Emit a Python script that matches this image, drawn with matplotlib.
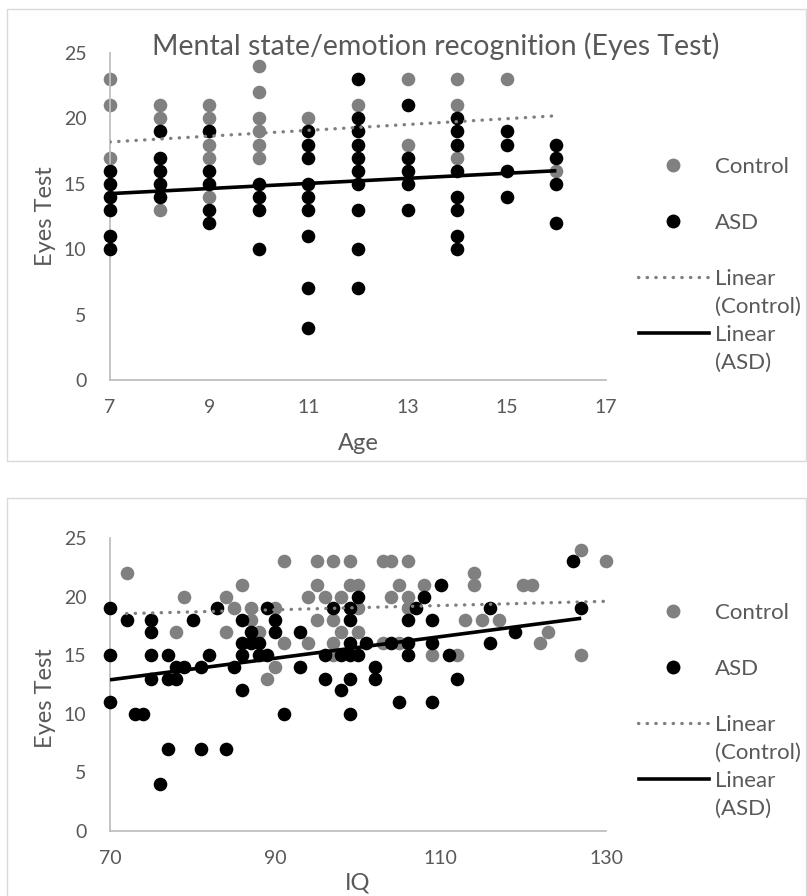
import matplotlib.pyplot as plt
from matplotlib.lines import Line2D
from matplotlib.patches import Rectangle

plt.rcParams['font.family'] = ['Lato', 'DejaVu Sans']

# ---- data: eyes test vs age ----
ctrl_age = [7, 7, 7, 8, 8, 8, 9, 9, 9, 9, 9, 10, 10, 10, 10, 10, 10,
            11, 12, 13, 13, 14, 14, 14, 15, 16]
ctrl_age_eyes = [23, 21, 17, 21, 20, 13, 21, 20, 18, 17, 14, 24, 22, 20, 19, 18, 17,
                 20, 21, 23, 18, 23, 21, 17, 23, 16]

asd_age = [7, 7, 7, 7, 7, 7, 8, 8, 8, 8, 8, 9, 9, 9, 9, 9, 10, 10, 10, 10,
           11, 11, 11, 11, 11, 11, 11, 11, 11,
           12, 12, 12, 12, 12, 12, 12, 12, 12, 12,
           13, 13, 13, 13, 13, 14, 14, 14, 14, 14, 14, 14, 14,
           15, 15, 15, 15, 16, 16, 16, 16]
asd_age_eyes = [16, 15, 14, 13, 11, 10, 19, 17, 16, 15, 14, 19, 16, 15, 13, 12, 15, 14, 13, 10,
                19, 18, 17, 15, 14, 13, 11, 7, 4,
                23, 20, 19, 18, 17, 16, 15, 13, 10, 7,
                21, 17, 16, 15, 13, 20, 19, 18, 16, 14, 13, 11, 10,
                19, 18, 16, 14, 18, 17, 15, 12]

# trend lines (end points)
age_fit_x = [7, 16]
ctrl_age_fit = [18.2, 20.2]
asd_age_fit = [14.25, 16.0]

# ---- data: eyes test vs IQ ----
ctrl_iq = [72, 78, 79, 84, 84, 85, 86, 87, 87, 88, 89, 90, 90, 91, 91, 94, 94,
           95, 95, 95, 96, 97, 97, 97, 97, 98, 98, 99, 99, 100, 100, 100,
           103, 103, 104, 104, 105, 105, 106, 106, 106, 108, 109, 112, 113,
           114, 114, 115, 117, 120, 121, 122, 123, 127, 127, 130]
ctrl_iq_eyes = [22, 17, 20, 20, 17, 19, 21, 19, 18, 17, 13, 14, 19, 23, 16, 20, 16,
                23, 21, 18, 20, 23, 18, 16, 15, 20, 17, 23, 21, 21, 19, 17,
                23, 16, 23, 20, 21, 16, 23, 20, 19, 21, 15, 15, 18,
                22, 21, 18, 18, 21, 21, 16, 17, 24, 15, 23]

asd_iq = [70, 70, 70, 72, 73, 74, 75, 75, 75, 75, 76, 77, 77, 77, 78, 78, 79,
          80, 81, 81, 82, 83, 84, 85, 86, 86, 86, 86, 87, 87, 88, 88, 89, 89,
          90, 90, 91, 93, 93, 96, 96, 97, 98, 98, 99, 99, 99, 99, 99, 99,
          100, 100, 101, 102, 102, 104, 105, 106, 106, 106, 107, 108, 109, 109, 109,
          110, 111, 112, 116, 116, 119, 126, 127]
asd_iq_eyes = [19, 15, 11, 18, 10, 10, 18, 17, 15, 13, 4, 15, 13, 7, 13, 14, 14,
               18, 14, 7, 15, 19, 7, 14, 18, 16, 15, 12, 17, 16, 16, 15, 15, 19,
               18, 17, 10, 17, 14, 15, 13, 19, 15, 12, 19, 18, 16, 15, 13, 10,
               20, 15, 16, 14, 13, 16, 11, 18, 16, 15, 19, 20, 18, 16, 11,
               21, 15, 13, 19, 16, 17, 23, 19]

ctrl_iq_fit_x = [72, 130]
ctrl_iq_fit = [18.55, 19.6]
asd_iq_fit_x = [70, 127]
asd_iq_fit = [12.9, 18.15]

series_labels = ['Control', 'ASD']
GRAY = '#808080'
TXT = '#595959'
W, H = 807, 896

fig = plt.figure(figsize=(W / 100, H / 100), dpi=100)


def px_ax(l, t, r, b):
    return fig.add_axes([l / W, 1 - b / H, (r - l) / W, (b - t) / H])


def fx(x):
    return x / W


def fy(y):
    return 1 - y / H


# chart frames
fig.add_artist(Rectangle((fx(7), fy(461)), fx(799), 452 / H, transform=fig.transFigure,
                         fill=False, edgecolor='#d9d9d9', lw=1))
fig.add_artist(Rectangle((fx(7), fy(920)), fx(799), 422 / H, transform=fig.transFigure,
                         fill=False, edgecolor='#d9d9d9', lw=1))

ax1 = px_ax(110, 53, 606, 380)
ax2 = px_ax(110, 538, 606, 831)


def scatter_panel(ax, cx, cy, axx, ay, fx1, cf, fx2, af, xlim, xticks):
    ax.plot(cx, cy, 'o', color=GRAY, ms=9.8, mew=0, clip_on=False, zorder=2)
    ax.plot(axx, ay, 'o', color='black', ms=9.8, mew=0, clip_on=False, zorder=3)
    ax.plot(fx1, cf, color=GRAY, lw=2.4, linestyle=(0, (0.1, 2.5)),
            dash_capstyle='round', zorder=4)
    ax.plot(fx2, af, color='black', lw=2.6, solid_capstyle='butt', zorder=4)
    ax.set_xlim(*xlim)
    ax.set_ylim(0, 25)
    ax.set_xticks(xticks)
    ax.set_yticks(range(0, 26, 5))
    for s in ['top', 'right']:
        ax.spines[s].set_visible(False)
    for s in ['left', 'bottom']:
        ax.spines[s].set_color('#bfbfbf')
        ax.spines[s].set_linewidth(1.3)
    ax.tick_params(axis='both', length=0, labelsize=14, labelcolor=TXT)
    ax.tick_params(axis='y', pad=17)
    ax.tick_params(axis='x', pad=14)
    ax.set_facecolor('none')


scatter_panel(ax1, ctrl_age, ctrl_age_eyes, asd_age, asd_age_eyes,
              age_fit_x, ctrl_age_fit, age_fit_x, asd_age_fit,
              (7, 17), range(7, 18, 2))
scatter_panel(ax2, ctrl_iq, ctrl_iq_eyes, asd_iq, asd_iq_eyes,
              ctrl_iq_fit_x, ctrl_iq_fit, asd_iq_fit_x, asd_iq_fit,
              (70, 130), range(70, 131, 20))

# axis titles
fig.text(fx(45), fy(216), 'Eyes Test', rotation=90, ha='center', va='center',
         fontsize=17, color=TXT)
fig.text(fx(45), fy(698), 'Eyes Test', rotation=90, ha='center', va='center',
         fontsize=17, color=TXT)
fig.text(fx(358), fy(450), 'Age', ha='center', va='baseline', fontsize=17, color=TXT)
fig.text(fx(358), fy(889), 'IQ', ha='center', va='baseline', fontsize=17, color=TXT)

fig.text(fx(436), fy(55), 'Mental state/emotion recognition (Eyes Test)',
         ha='center', va='baseline', fontsize=20.5, color=TXT)


# legends
def legend(y0):
    fig.add_artist(Line2D([fx(673)], [fy(y0)], marker='o', ms=10, mew=0, color=GRAY,
                          transform=fig.transFigure))
    fig.text(fx(715), fy(y0 + 8), series_labels[0], fontsize=16, color=TXT, va='baseline')
    fig.add_artist(Line2D([fx(673)], [fy(y0 + 56)], marker='o', ms=10, mew=0, color='black',
                          transform=fig.transFigure))
    fig.text(fx(715), fy(y0 + 64), series_labels[1], fontsize=16, color=TXT, va='baseline')
    fig.add_artist(Line2D([fx(638), fx(708)], [fy(y0 + 112)] * 2, color=GRAY, lw=2.4,
                          linestyle=(0, (0.1, 2.5)), dash_capstyle='round',
                          transform=fig.transFigure))
    fig.text(fx(715), fy(y0 + 120), 'Linear', fontsize=16, color=TXT, va='baseline')
    fig.text(fx(715), fy(y0 + 148), '(Control)', fontsize=16, color=TXT, va='baseline')
    fig.add_artist(Line2D([fx(639), fx(709)], [fy(y0 + 168)] * 2, color='black', lw=2.6,
                          transform=fig.transFigure))
    fig.text(fx(715), fy(y0 + 176), 'Linear', fontsize=16, color=TXT, va='baseline')
    fig.text(fx(715), fy(y0 + 204), '(ASD)', fontsize=16, color=TXT, va='baseline')


legend(165)
legend(611)

fig.savefig('out.png', dpi=100)
